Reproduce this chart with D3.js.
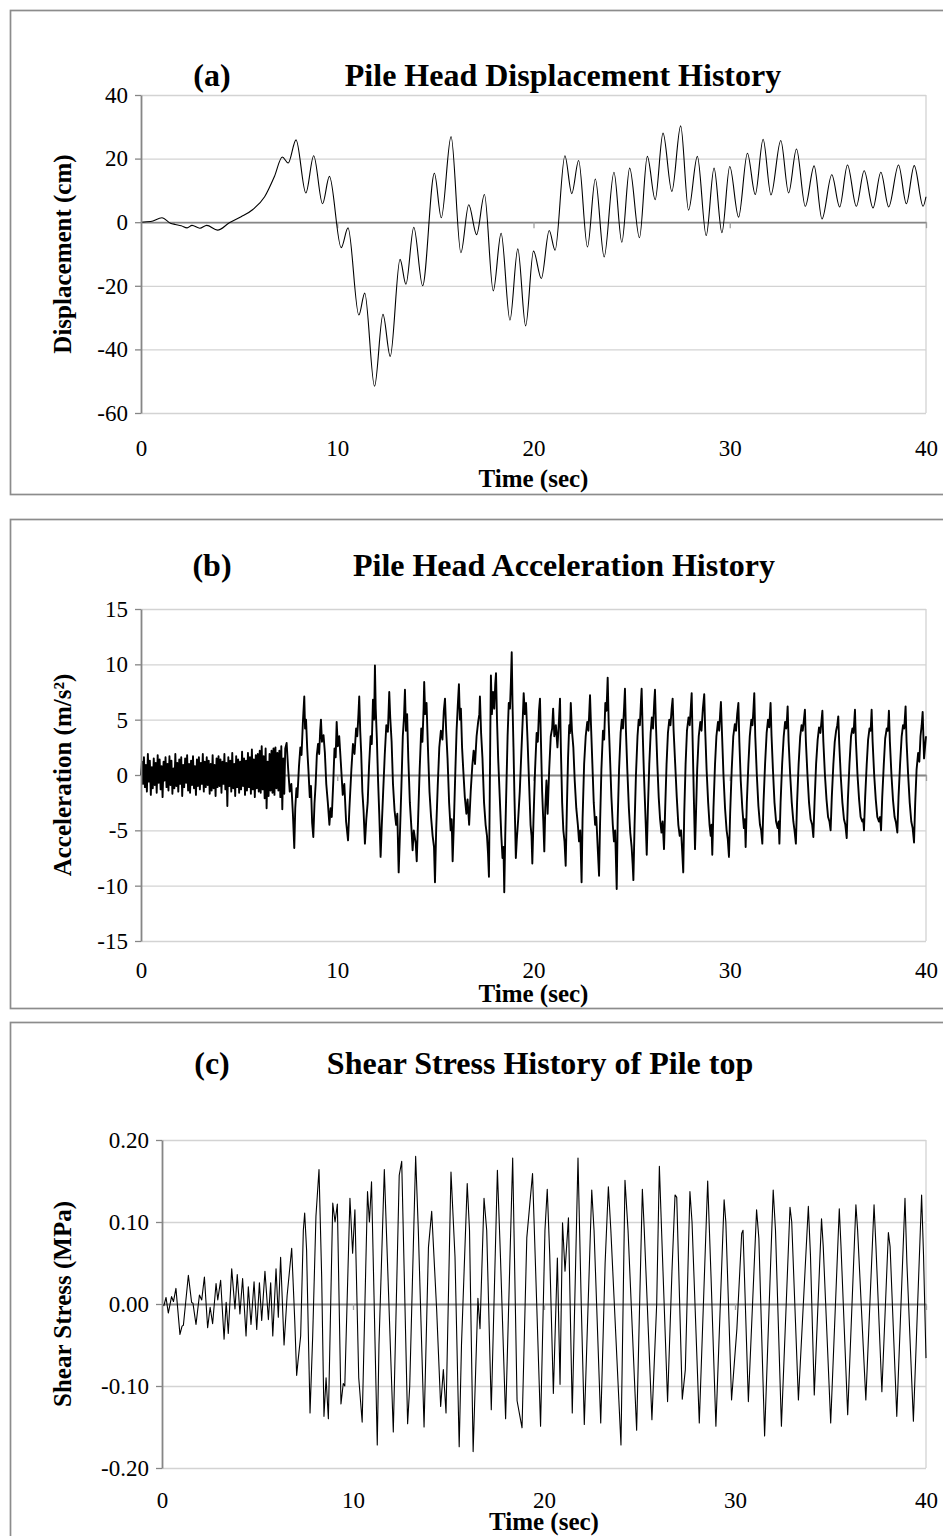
<!DOCTYPE html>
<html>
<head>
<meta charset="utf-8">
<script src="https://cdn.jsdelivr.net/npm/d3@7"></script>
<style>
  body { margin: 0; background: #fff; }
  svg text { font-family: "Liberation Serif", "Times New Roman", serif !important; fill: #000; }
</style>
</head>
<body>
<svg id="fig" width="943" height="1536"></svg>
<script>
// ---- shared axis values ----
const timeTicks = [0, 10, 20, 30, 40];
const dispTicks = [-60, -40, -20, 0, 20, 40];
const accTicks = [-15, -10, -5, 0, 5, 10, 15];
const stressTicks = [-0.2, -0.1, 0, 0.1, 0.2];

// ---- (a) pile head displacement, cm: [time s, value] at turning points ----
const displacement = [
  [0,0],[0.5,0.2],[1.07,1.4],[1.5,-0.3],[1.75,-0.7],[2.05,-1.1],[2.35,-1.8],[2.6,-1.0],[3.0,-1.9],
  [3.35,-1.0],[3.9,-2.5],[4.5,-0.2],[5.1,1.7],[5.7,4.0],[6.3,8.0],[6.8,14.4],[7.2,20.5],[7.5,18.6],
  [7.9,25.9],[8.4,9.2],[8.8,20.9],[9.25,5.8],[9.6,14.4],[10.2,-8.0],[10.55,-1.8],[11.1,-29.2],
  [11.4,-22.3],[11.9,-51.6],[12.33,-29],[12.7,-42.2],[13.2,-11.7],[13.5,-19.5],[13.9,-1.6],
  [14.35,-20],[14.95,15.4],[15.3,1.4],[15.8,26.9],[16.3,-9.6],[16.7,5.5],[17.1,-3.9],[17.5,8.7],
  [17.95,-21.6],[18.35,-3.5],[18.8,-30.8],[19.2,-8.4],[19.6,-32.6],[20.0,-9.1],[20.4,-17.7],
  [20.8,-2.6],[21.1,-8.8],[21.6,20.9],[21.95,9.0],[22.3,19.4],[22.75,-7.8],[23.15,13.6],
  [23.6,-10.9],[24.1,15.7],[24.5,-6.3],[24.9,17.0],[25.4,-4.9],[25.8,20.7],[26.2,7.1],[26.6,28.0],
  [27.05,9.7],[27.5,30.3],[27.9,3.8],[28.35,20.7],[28.8,-4.2],[29.2,17.0],[29.6,-3.3],[30.0,17.5],
  [30.45,1.6],[30.9,21.7],[31.3,8.7],[31.7,26.1],[32.1,8.6],[32.6,25.7],[33.0,9.2],[33.4,23.0],
  [33.85,5.0],[34.3,17.7],[34.7,1.0],[35.2,14.9],[35.6,4.8],[36.0,18.0],[36.45,5.0],[36.85,16.2],
  [37.3,4.5],[37.7,15.7],[38.1,4.8],[38.6,18.0],[39.0,5.8],[39.4,17.8],[39.85,5.0],[40,8.0]
];

// ---- (b) pile head acceleration, m/s^2 ----
// low-level record before the strong shaking, sampled every accelEarlyStep seconds
const accelEarlyStep = 0.05;
const accelEarly = [
  0.0, 1.2, -0.8, 1.6, -1.1, 0.9, -1.5, 1.9, -0.6, 1.3, -1.8, 0.7, -1.2, 1.5, -0.9, 1.1, -1.6, 1.8, -0.7, 1.4,
  -1.3, 0.8, -2.0, 1.2, -0.5, 1.6, -1.1, 1.0, -1.4, 1.7, -0.9, 1.3, -1.7, 0.6, -1.2, 1.9, -1.0, 1.1, -1.5, 1.4,
  -0.8, 1.6, -1.9, 0.9, -1.1, 1.5, -0.7, 1.8, -1.4, 1.0, -1.6, 1.3, -0.9, 1.7, -1.2, 0.8, -1.8, 1.4, -1.0, 1.6,
  -1.3, 1.1, -0.8, 1.9, -1.5, 1.2, -1.1, 1.6, -0.9, 1.3, -1.7, 1.0, -1.4, 1.8, -1.2, 0.9, -1.9, 1.5, -1.1, 1.7,
  -1.0, 1.4, -1.6, 1.2, -0.8, 1.9, -1.3, 1.1, -2.8, 1.6, -1.0, 1.3, -1.5, 2.0, -1.2, 1.0, -1.9, 1.7, -1.1, 1.4,
  -1.6, 1.2, -1.3, 2.1, -1.0, 1.5, -1.8, 1.3, -1.4, 2.0, -1.1, 1.6, -1.7, 2.3, -1.3, 1.4, -2.0, 1.8, -1.2, 1.9,
  -1.5, 2.2, -1.6, 2.6, -1.3, 1.7, -2.1, 2.4, -3.0, 1.2, -1.9, 1.9, -1.4, 2.2, -1.6, 2.4, -1.8, 2.5, -1.2, 2.0,
  -1.4, 2.2, -2.0, 2.6, -3.1, 1.5, -1.7, 2.4
];
// strong shaking: [time s, value]
const accelStrong = [
  [7.42,2.9],[7.50,0.5],[7.58,-1.5],[7.66,-0.8],[7.74,-3.5],[7.81,-6.6],[7.86,-3.0],[7.92,-1.2],[7.97,-2.0],
  [8.05,0.8],[8.12,2.5],[8.18,1.8],[8.25,4.8],[8.32,7.1],[8.36,4.2],[8.41,5.0],[8.47,2.4],[8.53,0.5],
  [8.60,-2.0],[8.66,-1.0],[8.72,-4.3],[8.78,-5.6],[8.84,-2.6],[8.90,-0.8],[8.96,1.8],[9.02,2.8],[9.08,1.9],
  [9.13,4.0],[9.17,5.0],[9.22,3.0],[9.30,3.6],[9.37,2.0],[9.44,-0.8],[9.52,-2.5],[9.60,-4.5],[9.66,-3.0],
  [9.72,-3.8],[9.80,-0.5],[9.86,2.4],[9.92,1.6],[9.97,4.8],[10.03,2.6],[10.10,3.5],[10.18,1.2],[10.28,-1.8],
  [10.36,-0.8],[10.45,-4.2],[10.55,-5.9],[10.62,-3.0],[10.72,0.5],[10.80,2.8],[10.88,1.9],[10.96,4.2],
  [11.02,3.5],[11.08,5.5],[11.12,7.1],[11.17,4.0],[11.22,2.0],[11.28,-1.5],[11.34,-3.2],[11.41,-6.2],
  [11.48,-4.0],[11.55,-2.5],[11.62,0.8],[11.70,3.5],[11.76,2.8],[11.82,6.8],[11.88,5.0],[11.92,9.9],
  [11.96,6.0],[12.02,3.2],[12.08,-0.5],[12.14,-3.5],[12.21,-7.4],[12.27,-4.5],[12.34,-1.5],[12.42,1.8],
  [12.50,4.5],[12.58,3.9],[12.65,7.5],[12.70,5.2],[12.77,3.0],[12.84,-0.8],[12.92,-3.2],[13.00,-4.5],
  [13.06,-3.5],[13.13,-8.8],[13.20,-5.0],[13.27,-1.0],[13.34,3.5],[13.40,5.2],[13.45,7.7],[13.50,4.0],
  [13.56,5.5],[13.62,1.5],[13.70,-2.5],[13.78,-4.8],[13.84,-6.8],[13.90,-5.0],[14.00,-6.2],[14.05,-7.8],
  [14.12,-4.0],[14.20,0.5],[14.28,4.2],[14.34,3.0],[14.40,6.0],[14.43,8.4],[14.48,5.5],[14.55,6.5],
  [14.62,2.5],[14.70,-1.5],[14.78,-3.8],[14.86,-5.5],[14.93,-6.5],[14.98,-9.7],[15.04,-5.0],[15.12,-1.0],
  [15.20,2.5],[15.28,4.0],[15.36,3.2],[15.43,5.8],[15.49,6.9],[15.55,4.0],[15.62,1.5],[15.70,-2.5],
  [15.78,-5.0],[15.83,-4.0],[15.88,-7.8],[15.94,-4.5],[16.02,0.5],[16.08,4.0],[16.14,6.2],[16.20,8.2],
  [16.25,5.0],[16.30,6.0],[16.36,2.5],[16.42,0.5],[16.50,-2.0],[16.58,-3.5],[16.64,-2.2],[16.72,-4.5],
  [16.80,-1.5],[16.88,0.8],[16.95,2.2],[17.02,1.0],[17.10,3.5],[17.18,4.8],[17.24,5.5],[17.27,7.1],
  [17.33,3.8],[17.40,1.5],[17.48,-2.5],[17.56,-4.5],[17.63,-5.5],[17.68,-7.0],[17.73,-9.2],[17.77,-2.0],
  [17.80,4.0],[17.83,9.0],[17.88,5.5],[17.94,7.5],[18.00,6.0],[18.05,8.2],[18.09,9.2],[18.14,5.0],
  [18.20,1.5],[18.28,-2.0],[18.36,-5.5],[18.42,-7.5],[18.47,-6.5],[18.51,-10.6],[18.56,-5.5],[18.62,-1.0],
  [18.68,3.5],[18.74,6.5],[18.80,6.0],[18.85,8.5],[18.89,11.1],[18.93,6.5],[18.98,2.5],[19.03,-2.0],
  [19.07,-5.0],[19.10,-7.5],[19.15,-5.8],[19.22,-4.0],[19.30,-1.5],[19.38,2.0],[19.45,5.0],[19.50,7.4],
  [19.56,5.5],[19.62,6.5],[19.70,3.0],[19.78,-1.0],[19.85,-4.5],[19.90,-5.5],[19.94,-8.0],[20.00,-4.0],
  [20.08,0.5],[20.16,3.8],[20.22,3.0],[20.28,5.8],[20.33,6.9],[20.38,3.0],[20.44,-1.5],[20.50,-4.2],
  [20.55,-6.9],[20.60,-3.0],[20.66,-0.5],[20.72,-3.5],[20.80,0.5],[20.88,3.5],[20.95,4.2],[21.00,6.0],
  [21.06,3.5],[21.14,4.5],[21.22,2.5],[21.30,5.0],[21.35,6.9],[21.40,2.0],[21.46,-2.5],[21.52,-5.0],
  [21.58,-6.0],[21.64,-8.2],[21.70,-3.0],[21.76,1.5],[21.82,4.5],[21.86,3.8],[21.90,6.5],[21.96,4.0],
  [22.03,2.5],[22.10,-0.5],[22.18,-3.0],[22.26,-4.5],[22.32,-6.0],[22.38,-5.0],[22.45,-9.7],[22.50,-4.0],
  [22.58,1.0],[22.66,3.5],[22.74,4.8],[22.80,4.0],[22.85,6.0],[22.88,7.2],[22.93,4.5],[23.00,1.0],
  [23.07,-2.5],[23.14,-4.5],[23.20,-3.8],[23.27,-6.5],[23.34,-9.1],[23.39,-4.5],[23.46,0.5],[23.54,4.0],
  [23.60,3.2],[23.66,6.5],[23.72,5.8],[23.78,8.8],[23.83,4.8],[23.90,1.5],[23.97,-2.0],[24.04,-4.5],
  [24.10,-6.0],[24.16,-5.0],[24.24,-10.3],[24.29,-4.0],[24.36,0.5],[24.44,3.8],[24.50,5.0],[24.56,4.2],
  [24.62,6.2],[24.66,7.8],[24.71,4.0],[24.78,0.5],[24.86,-3.0],[24.93,-5.2],[25.00,-6.5],[25.05,-8.0],
  [25.09,-9.5],[25.15,-4.5],[25.22,0.0],[25.30,3.5],[25.36,5.0],[25.42,4.5],[25.48,6.8],[25.51,7.8],
  [25.57,3.5],[25.62,0.5],[25.68,-2.5],[25.73,-5.0],[25.77,-7.2],[25.83,-3.0],[25.90,1.0],[25.97,3.8],
  [26.03,5.2],[26.09,4.2],[26.15,6.5],[26.19,7.7],[26.24,4.5],[26.31,1.0],[26.38,-2.0],[26.45,-4.0],
  [26.52,-5.2],[26.58,-4.2],[26.65,-6.7],[26.71,-3.0],[26.78,1.0],[26.85,3.8],[26.92,5.0],[26.98,4.5],
  [27.04,6.0],[27.09,6.9],[27.14,4.0],[27.22,1.0],[27.30,-2.0],[27.38,-4.5],[27.45,-5.5],[27.52,-5.0],
  [27.58,-7.0],[27.63,-8.8],[27.68,-3.5],[27.75,1.0],[27.82,4.0],[27.90,5.2],[27.96,4.5],[28.02,6.2],
  [28.06,7.4],[28.11,3.0],[28.17,-2.0],[28.23,-6.7],[28.28,-3.5],[28.34,0.5],[28.42,3.5],[28.50,4.8],
  [28.56,4.0],[28.63,6.0],[28.70,7.3],[28.75,4.0],[28.82,0.5],[28.90,-2.5],[28.97,-4.5],[29.03,-5.5],
  [29.07,-4.5],[29.11,-7.2],[29.17,-3.0],[29.25,1.0],[29.32,3.5],[29.40,4.8],[29.46,4.0],[29.51,5.5],
  [29.55,6.6],[29.61,3.5],[29.68,0.0],[29.76,-3.0],[29.84,-5.0],[29.90,-5.8],[29.96,-7.4],[30.02,-3.5],
  [30.10,0.5],[30.18,3.5],[30.26,4.6],[30.32,4.0],[30.38,5.5],[30.44,6.5],[30.49,3.0],[30.56,-0.5],
  [30.64,-3.0],[30.72,-4.8],[30.77,-4.0],[30.81,-6.5],[30.87,-2.5],[30.95,1.0],[31.02,3.5],[31.10,5.0],
  [31.16,4.5],[31.21,6.0],[31.25,7.4],[31.30,3.5],[31.38,0.0],[31.46,-2.8],[31.54,-4.5],[31.60,-5.0],
  [31.66,-6.2],[31.72,-2.5],[31.80,1.0],[31.88,3.8],[31.95,5.0],[32.01,4.3],[32.05,5.5],[32.08,6.5],
  [32.13,3.5],[32.20,0.5],[32.28,-2.5],[32.36,-4.2],[32.44,-4.8],[32.49,-4.2],[32.53,-6.2],[32.59,-2.5],
  [32.67,1.0],[32.75,3.5],[32.82,4.8],[32.88,4.2],[32.92,5.2],[32.95,6.2],[33.00,3.0],[33.08,0.0],
  [33.16,-2.5],[33.24,-4.2],[33.30,-5.0],[33.37,-6.2],[33.43,-2.5],[33.51,1.0],[33.59,3.5],[33.66,4.5],
  [33.72,4.0],[33.78,5.0],[33.83,5.9],[33.88,3.0],[33.96,0.0],[34.04,-2.5],[34.12,-4.0],[34.20,-4.5],
  [34.26,-5.6],[34.32,-2.5],[34.40,1.0],[34.48,3.2],[34.55,4.3],[34.62,3.8],[34.68,5.0],[34.72,5.8],
  [34.77,3.0],[34.85,0.0],[34.93,-2.2],[35.01,-3.8],[35.08,-4.2],[35.14,-5.0],[35.20,-2.0],[35.28,1.0],
  [35.35,3.0],[35.42,4.0],[35.48,4.5],[35.53,5.3],[35.58,2.8],[35.66,-0.2],[35.74,-2.5],[35.82,-4.0],
  [35.89,-4.5],[35.96,-5.7],[36.02,-2.2],[36.10,1.0],[36.18,3.5],[36.25,4.2],[36.31,3.8],[36.35,5.0],
  [36.38,5.9],[36.43,3.0],[36.51,0.0],[36.59,-2.2],[36.67,-3.8],[36.75,-4.2],[36.80,-4.0],[36.84,-5.0],
  [36.90,-2.0],[36.98,1.0],[37.05,3.2],[37.12,4.2],[37.18,4.0],[37.23,5.9],[37.28,3.0],[37.36,0.0],
  [37.44,-2.2],[37.52,-3.8],[37.60,-4.2],[37.66,-3.8],[37.71,-5.0],[37.77,-2.0],[37.85,1.0],[37.92,3.3],
  [38.00,4.2],[38.06,4.0],[38.11,5.8],[38.16,3.0],[38.24,0.0],[38.32,-2.3],[38.40,-3.8],[38.47,-4.3],
  [38.54,-5.2],[38.60,-2.0],[38.68,1.0],[38.76,3.5],[38.83,4.5],[38.89,4.2],[38.96,6.2],[39.01,3.0],
  [39.09,0.0],[39.17,-2.5],[39.25,-4.2],[39.32,-4.8],[39.39,-6.1],[39.45,-2.5],[39.52,0.5],[39.60,2.0],
  [39.66,1.2],[39.72,3.5],[39.78,4.5],[39.83,5.7],[39.90,1.5],[39.95,2.5],[40.00,3.5]
];

// ---- (c) shear stress at the pile top, MPa: [time s, value] ----
const shearStress = [
  [0,0],[0.1,-0.002],[0.21,0.008],[0.33,-0.011],[0.5,0.009],[0.6,0.003],[0.73,0.019],[0.94,-0.037],
  [1.05,-0.027],[1.12,-0.026],[1.38,0.035],[1.55,0.002],[1.62,0.001],[1.78,-0.025],[1.96,0.011],
  [2.08,0.005],[2.22,0.033],[2.39,-0.029],[2.52,-0.004],[2.65,-0.024],[2.83,0.025],[2.92,0.005],
  [3.07,0.029],[3.25,-0.043],[3.36,0.002],[3.47,-0.036],[3.65,0.043],[3.82,-0.006],[3.94,0.036],
  [4.08,-0.012],[4.22,0.031],[4.4,-0.039],[4.52,0.021],[4.66,-0.025],[4.82,0.027],[4.96,-0.031],
  [5.1,0.026],[5.22,-0.02],[5.39,0.04],[5.57,-0.019],[5.69,0.026],[5.8,-0.039],[5.97,0.043],
  [6.09,-0.016],[6.21,0.057],[6.39,-0.05],[6.55,0.01],[6.79,0.068],[6.95,-0.02],[7.05,-0.087],
  [7.12,-0.07],[7.26,-0.039],[7.4,0.09],[7.47,0.111],[7.57,0.066],[7.75,-0.133],[7.89,-0.039],
  [8.06,0.107],[8.22,0.164],[8.36,0.033],[8.48,-0.137],[8.59,-0.09],[8.71,-0.14],[8.94,0.123],
  [9.06,0.10],[9.18,0.122],[9.37,-0.122],[9.49,-0.097],[9.57,-0.1],[9.84,0.129],[9.98,0.062],
  [10.1,0.115],[10.3,-0.09],[10.48,-0.144],[10.76,0.137],[10.86,0.1],[10.97,0.149],[11.27,-0.172],
  [11.36,-0.05],[11.64,0.164],[11.76,0.082],[12.11,-0.156],[12.42,0.157],[12.55,0.174],[12.86,-0.146],
  [12.97,-0.1],[13.28,0.18],[13.42,0.09],[13.72,-0.15],[13.95,0.069],[14.12,0.113],[14.38,-0.007],
  [14.59,-0.125],[14.73,-0.08],[14.87,-0.133],[15.13,0.161],[15.34,0.058],[15.56,-0.174],[15.68,-0.05],
  [15.98,0.147],[16.1,0.09],[16.29,-0.18],[16.54,0.007],[16.65,-0.03],[16.86,0.129],[17.0,0.09],
  [17.24,-0.129],[17.56,0.163],[17.72,0.058],[17.99,-0.14],[18.36,0.178],[18.59,-0.118],[18.85,-0.151],
  [19.1,0.081],[19.4,0.159],[19.55,0.05],[19.82,-0.149],[20.05,0.09],[20.17,0.14],[20.3,0.06],
  [20.49,-0.109],[20.7,0.056],[20.84,-0.098],[20.97,0.099],[21.1,0.04],[21.28,0.105],[21.48,-0.133],
  [21.78,0.178],[21.95,0.0],[22.11,-0.147],[22.5,0.139],[22.62,0.09],[22.97,-0.145],[23.2,0.05],
  [23.37,0.143],[23.5,0.09],[24.03,-0.172],[24.24,0.151],[24.4,0.09],[24.85,-0.154],[25.15,0.14],
  [25.25,0.09],[25.65,-0.141],[25.9,0.0],[26.04,0.168],[26.2,0.06],[26.47,-0.119],[26.7,0.04],
  [26.86,0.133],[26.95,0.13],[27.24,-0.116],[27.4,-0.08],[27.64,0.137],[27.75,0.1],[28.13,-0.145],
  [28.57,0.150],[28.75,0.03],[29.0,-0.149],[29.43,0.127],[29.52,0.1],[29.82,-0.117],[30.1,-0.03],
  [30.35,0.086],[30.42,0.09],[30.7,-0.119],[31.13,0.115],[31.25,0.08],[31.55,-0.161],[32.0,0.139],
  [32.12,0.09],[32.43,-0.149],[32.88,0.118],[32.97,0.1],[33.32,-0.117],[33.84,0.119],[33.95,0.06],
  [34.15,-0.111],[34.53,0.104],[34.62,0.07],[35.01,-0.145],[35.46,0.116],[35.55,0.07],[35.9,-0.135],
  [36.33,0.121],[36.42,0.09],[36.85,-0.117],[37.28,0.121],[37.38,0.07],[37.69,-0.107],[38.03,0.087],
  [38.12,0.07],[38.47,-0.137],[38.9,0.129],[39.0,0.05],[39.34,-0.143],[39.77,0.133],[39.87,0.06],
  [40.0,-0.066]
];

const accel = accelEarly.map((v, i) => [i * accelEarlyStep, v]).concat(accelStrong);

const svg = d3.select("#fig");
const BORDER = "#8c8c8c", GRID = "#d3d3d3", AXIS = "#868686";
const SERIF = '"Liberation Serif", "Times New Roman", serif';

const panels = [
  { tag: "(a)", title: "Pile Head Displacement History", yTitle: "Displacement (cm)",
    data: displacement, curve: d3.curveMonotoneX, width: 1.1,
    yDomain: [-60, 40], yTicks: dispTicks, fmt: d => d.toFixed(0),
    box: [10, 494], titleY: 75, left: 141, right: 926, top: 95, bottom: 413,
    xLabelY: 448, xTitleY: 478, tagX: 212, titleX: 563 },
  { tag: "(b)", title: "Pile Head Acceleration History", yTitle: "Acceleration (m/s²)",
    data: accel, curve: d3.curveLinear, width: 1.9,
    yDomain: [-15, 15], yTicks: accTicks, fmt: d => d.toFixed(0),
    box: [519, 1008], titleY: 565, left: 141, right: 926, top: 609, bottom: 941,
    xLabelY: 970, xTitleY: 993, tagX: 212, titleX: 564 },
  { tag: "(c)", title: "Shear Stress History of Pile top", yTitle: "Shear Stress (MPa)",
    data: shearStress, curve: d3.curveLinear, width: 1.1,
    yDomain: [-0.2, 0.2], yTicks: stressTicks, fmt: d => d.toFixed(2),
    box: [1022, 1560], titleY: 1063, left: 162, right: 926, top: 1140, bottom: 1468,
    xLabelY: 1500, xTitleY: 1521, tagX: 212, titleX: 540 }
];

panels.forEach(p => {
  const x = d3.scaleLinear().domain([0, 40]).range([p.left, p.right]);
  const y = d3.scaleLinear().domain(p.yDomain).range([p.bottom, p.top]);
  const g = svg.append("g");

  // frame around the chart
  g.append("rect")
    .attr("x", 10.5).attr("y", p.box[0] + 0.5)
    .attr("width", 960).attr("height", p.box[1] - p.box[0])
    .attr("fill", "none").attr("stroke", BORDER).attr("stroke-width", 1.7);

  // horizontal gridlines
  g.append("g")
    .attr("transform", `translate(${p.left},0)`)
    .call(d3.axisLeft(y).tickValues(p.yTicks).tickSize(-(p.right - p.left)).tickFormat(""))
    .call(a => a.select(".domain").remove())
    .call(a => a.selectAll("line").attr("stroke", GRID).attr("stroke-width", 1.3));

  // right edge of the plot area
  g.append("line")
    .attr("x1", p.right).attr("x2", p.right).attr("y1", p.top).attr("y2", p.bottom)
    .attr("stroke", GRID).attr("stroke-width", 1.3);

  // time axis through zero
  g.append("g")
    .attr("transform", `translate(0,${y(0)})`)
    .call(d3.axisBottom(x).tickValues(timeTicks.slice(1)).tickSize(6).tickSizeOuter(0).tickFormat(""))
    .call(a => a.select(".domain").attr("stroke", AXIS).attr("stroke-width", 1.8))
    .call(a => a.selectAll(".tick line").attr("stroke", "#a0a0a0").attr("stroke-width", 1.3));

  // the record
  g.append("path")
    .datum(p.data)
    .attr("fill", "none").attr("stroke", "#000").attr("stroke-width", p.width)
    .attr("stroke-linejoin", "round")
    .attr("d", d3.line().x(d => x(d[0])).y(d => y(d[1])).curve(p.curve));

  // value axis
  g.append("g")
    .attr("transform", `translate(${p.left},0)`)
    .call(d3.axisLeft(y).tickValues(p.yTicks).tickSize(6).tickSizeOuter(0).tickPadding(7).tickFormat(p.fmt))
    .attr("font-family", SERIF).attr("font-size", 23)
    .call(a => a.select(".domain").attr("stroke", AXIS).attr("stroke-width", 1.8))
    .call(a => a.selectAll(".tick line").attr("stroke", AXIS).attr("stroke-width", 1.3))
    .call(a => a.selectAll("text").attr("fill", "#000"));

  // time labels along the bottom
  g.append("g")
    .attr("transform", `translate(0,${p.xLabelY})`)
    .call(d3.axisBottom(x).tickValues(timeTicks).tickSize(0).tickPadding(0).tickFormat(d3.format("d")))
    .attr("font-family", SERIF).attr("font-size", 23)
    .call(a => a.select(".domain").remove())
    .call(a => a.selectAll("text").attr("y", 0).attr("dy", "0.35em").attr("fill", "#000"));

  // titles
  g.append("text").attr("x", p.tagX).attr("y", p.titleY).attr("dy", "0.35em")
    .attr("text-anchor", "middle").attr("font-size", 32).attr("font-weight", "bold").text(p.tag);
  g.append("text").attr("x", p.titleX).attr("y", p.titleY).attr("dy", "0.35em")
    .attr("text-anchor", "middle").attr("font-size", 32).attr("font-weight", "bold").text(p.title);
  g.append("text").attr("x", (p.left + p.right) / 2).attr("y", p.xTitleY).attr("dy", "0.35em")
    .attr("text-anchor", "middle").attr("font-size", 25).attr("font-weight", "bold").text("Time (sec)");
  g.append("text")
    .attr("transform", `translate(62,${(p.top + p.bottom) / 2}) rotate(-90)`)
    .attr("dy", "0.35em").attr("text-anchor", "middle")
    .attr("font-size", 25).attr("font-weight", "bold").text(p.yTitle);
});
</script>
</body>
</html>
